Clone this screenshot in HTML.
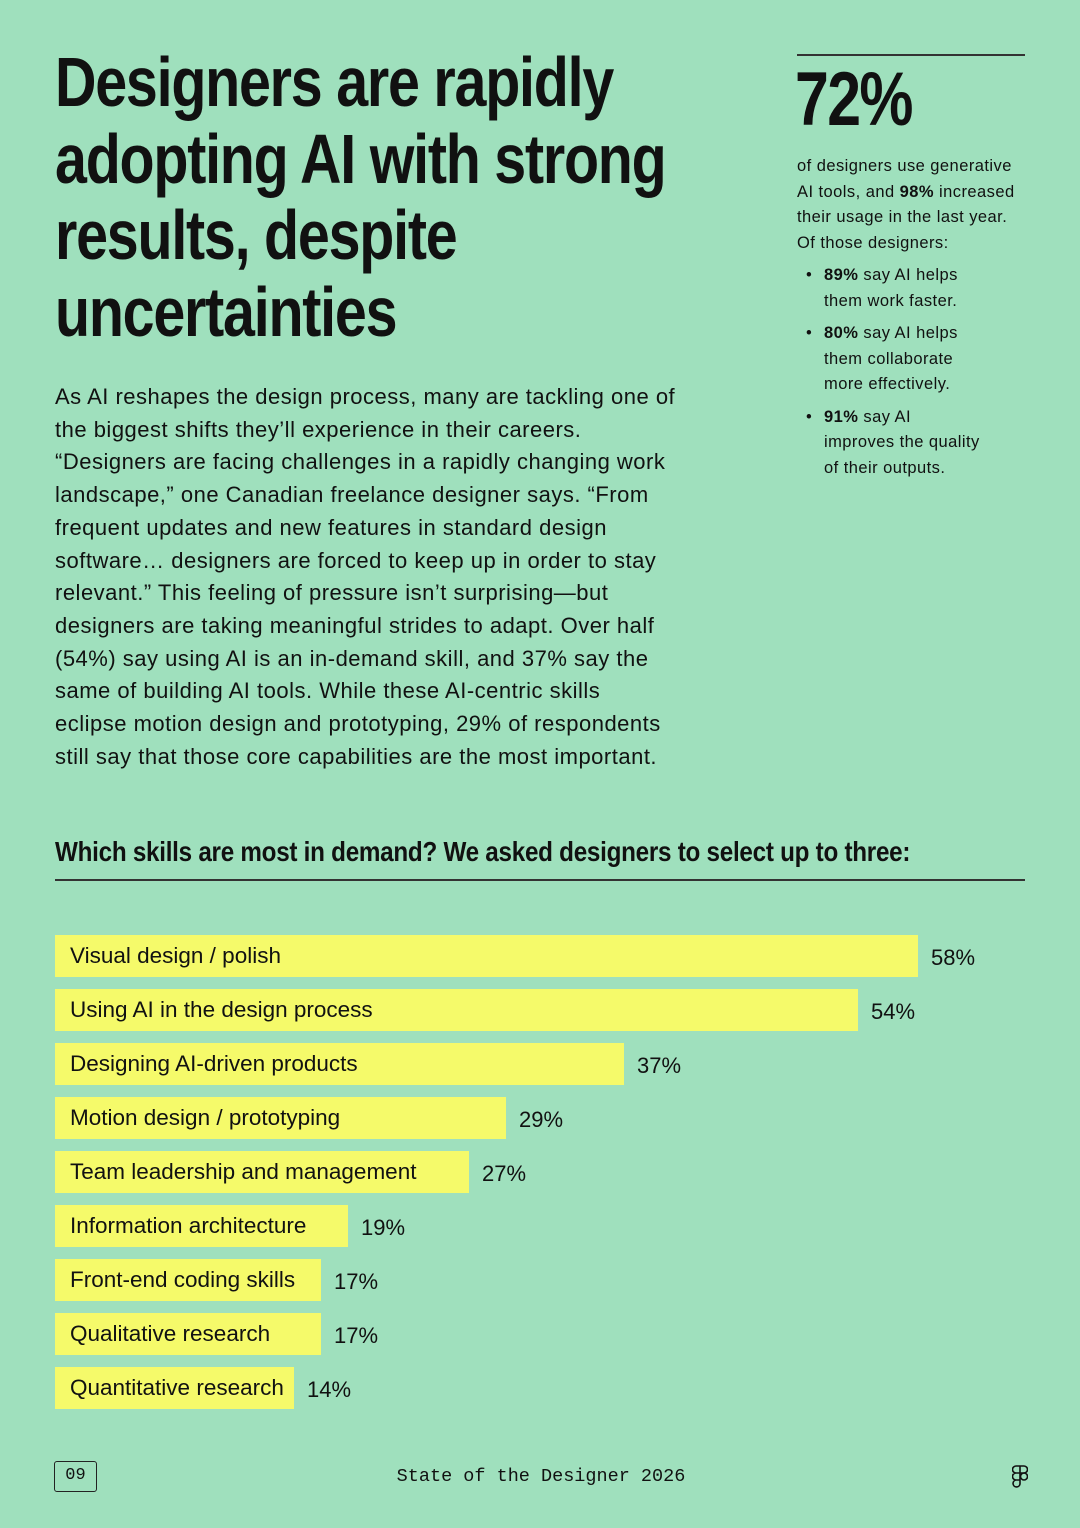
<!DOCTYPE html>
<html><head><meta charset="utf-8"><style>
*{margin:0;padding:0;box-sizing:border-box}
body{width:1080px;height:1528px;background:#9fe0bd;color:#111;font-family:"Liberation Sans",sans-serif;position:relative;overflow:hidden}
.abs{position:absolute}
h1{position:absolute;left:55px;top:44px;font-weight:700;font-size:70px;line-height:76.5px;letter-spacing:-1.5px;transform:scaleX(0.82);transform-origin:0 0;white-space:nowrap}
.body{left:55px;top:381px;font-size:22px;line-height:32.7px;white-space:nowrap;letter-spacing:0.5px}
.side{left:797px;width:228px}
.rule{height:1.5px;background:#333}
.big{left:795px;top:60px;font-weight:700;font-size:76px;letter-spacing:-2px;line-height:80px;transform:scaleX(0.8);transform-origin:0 0}
.stxt{left:797px;top:154px;font-size:16.5px;line-height:25.5px;white-space:nowrap;letter-spacing:0.45px}
ul{list-style:none;margin-top:7px}
li{position:relative;padding-left:27px;margin-bottom:7px}
li:before{content:"•";position:absolute;left:9px}
.q{left:55px;top:836px;font-weight:700;font-size:28px;letter-spacing:-0.3px;transform:scaleX(0.865);transform-origin:0 0;white-space:nowrap}
.bar{position:absolute;left:55px;height:42px;background:#f5fa6a;font-size:22.5px;line-height:42px;padding-left:15px;white-space:nowrap}
.pct{position:absolute;font-size:22px;line-height:42px}
.foot{top:1467px;left:0;width:1082px;text-align:center;font-family:"Liberation Mono",monospace;font-size:18.5px}
</style></head><body>
<h1>Designers are rapidly<br>adopting AI with strong<br>results, despite<br>uncertainties</h1>
<div class="abs body">As AI reshapes the design process, many are tackling one of<br>the biggest shifts they’ll experience in their careers.<br>“Designers are facing challenges in a rapidly changing work<br>landscape,” one Canadian freelance designer says. “From<br>frequent updates and new features in standard design<br>software… designers are forced to keep up in order to stay<br>relevant.” This feeling of pressure isn’t surprising—but<br>designers are taking meaningful strides to adapt. Over half<br>(54%) say using AI is an in-demand skill, and 37% say the<br>same of building AI tools. While these AI-centric skills<br>eclipse motion design and prototyping, 29% of respondents<br>still say that those core capabilities are the most important.</div>
<div class="abs side rule" style="top:54px"></div>
<div class="abs big">72%</div>
<div class="abs stxt">of designers use generative<br>AI tools, and <b>98%</b> increased<br>their usage in the last year.<br>Of those designers:
<ul><li><b>89%</b> say AI helps<br>them work faster.</li><li><b>80%</b> say AI helps<br>them collaborate<br>more effectively.</li><li><b>91%</b> say AI<br>improves the quality<br>of their outputs.</li></ul></div>
<div class="abs q">Which skills are most in demand? We asked designers to select up to three:</div>
<div class="abs rule" style="left:55px;width:970px;top:879px"></div>
<div class="bar" style="top:935px;width:863px">Visual design / polish</div><div class="pct" style="top:937px;left:931px">58%</div>
<div class="bar" style="top:989px;width:803px">Using AI in the design process</div><div class="pct" style="top:991px;left:871px">54%</div>
<div class="bar" style="top:1043px;width:569px">Designing AI-driven products</div><div class="pct" style="top:1045px;left:637px">37%</div>
<div class="bar" style="top:1097px;width:451px">Motion design / prototyping</div><div class="pct" style="top:1099px;left:519px">29%</div>
<div class="bar" style="top:1151px;width:414px">Team leadership and management</div><div class="pct" style="top:1153px;left:482px">27%</div>
<div class="bar" style="top:1205px;width:293px">Information architecture</div><div class="pct" style="top:1207px;left:361px">19%</div>
<div class="bar" style="top:1259px;width:266px">Front-end coding skills</div><div class="pct" style="top:1261px;left:334px">17%</div>
<div class="bar" style="top:1313px;width:266px">Qualitative research</div><div class="pct" style="top:1315px;left:334px">17%</div>
<div class="bar" style="top:1367px;width:239px">Quantitative research</div><div class="pct" style="top:1369px;left:307px">14%</div>
<div class="abs" style="left:54px;top:1461px;width:43px;height:31px;border:1.5px solid #222;border-radius:3px;font-family:'Liberation Mono',monospace;font-size:17px;text-align:center;line-height:28px">09</div>
<div class="abs foot" style="line-height:20px">State of the Designer 2026</div>
<svg class="abs" style="left:1012px;top:1465px" width="16" height="24" viewBox="0 0 16 24" fill="none" stroke="#111" stroke-width="1.6"><path d="M4 1h4v7H4a3.5 3.5 0 0 1 0-7zM8 1h4a3.5 3.5 0 0 1 0 7H8zM4 8h4v7H4a3.5 3.5 0 0 1 0-7zM4 15h4v4a3.5 3.5 0 1 1-4-4z"/><circle cx="12" cy="11.5" r="3.5"/></svg>
</body></html>
